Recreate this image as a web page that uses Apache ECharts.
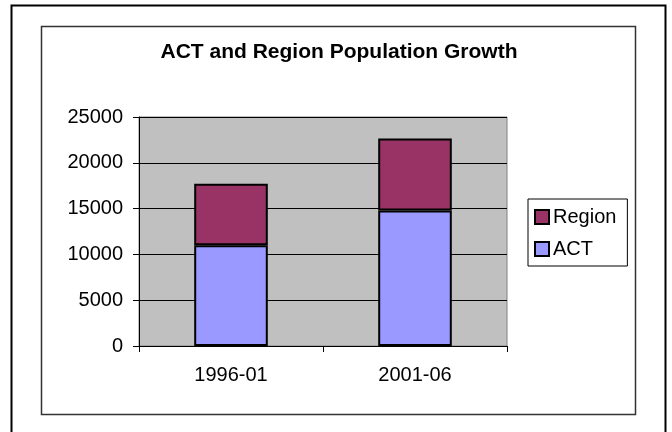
<!DOCTYPE html>
<html lang="en">
  <head>
    <meta charset="UTF-8" />
    <title>ACT and Region Population Growth</title>
    <script src="https://cdn.jsdelivr.net/npm/echarts@6/dist/echarts.min.js"></script>
    <style>
      html, body { margin: 0; padding: 0; background: #fff; }
      #main { width: 672px; height: 432px; }
    </style>
  </head>
  <body>
    <div id="main"></div>
    <script>
      // data
      var categories = ["1996-01", "2001-06"];
      var actValues = [11000, 14800];
      var regionValues = [6700, 7850];
      var legendNames = ["Region", "ACT"];

      var font = "Arial, 'Liberation Sans', sans-serif";
      var myChart = echarts.init(document.getElementById("main"));

      var option = {
        backgroundColor: "#fff",
        animation: false,
        title: {
          text: "ACT and Region Population Growth",
          left: 339,
          textAlign: "center",
          top: 42,
          padding: 0,
          textStyle: { fontFamily: font, fontSize: 21, fontWeight: "bold", color: "#000" },
        },
        graphic: [
          // outer frame
          { type: "rect", shape: { x: 11.5, y: 5.5, width: 654, height: 440 },
            style: { fill: null, stroke: "#000", lineWidth: 2 }, silent: true },
          // chart area frame
          { type: "rect", shape: { x: 41.5, y: 26.5, width: 594, height: 388 },
            style: { fill: null, stroke: "#333", lineWidth: 1.5 }, silent: true },
        ],
        legend: {
          data: legendNames,
          orient: "vertical",
          left: 528,
          top: 199,
          padding: [8, 11, 7, 6],
          itemGap: 12,
          itemWidth: 14,
          itemHeight: 14,
          icon: "rect",
          borderColor: "#000",
          borderWidth: 1,
          backgroundColor: "#fff",
          itemStyle: { borderColor: "#000", borderWidth: 2 },
          textStyle: { fontFamily: font, fontSize: 20, color: "#000", padding: [0, 0, 0, -1] },
        },
        grid: {
          left: 139,
          top: 117,
          right: 165,
          bottom: 86,
          show: true,
          backgroundColor: "#C0C0C0",
          borderColor: "#808080",
          borderWidth: 1,
        },
        xAxis: {
          type: "category",
          data: categories,
          axisLine: { lineStyle: { color: "#000", width: 1 } },
          axisTick: { show: true, length: 6, lineStyle: { color: "#000" } },
          axisLabel: { fontFamily: font, fontSize: 20, color: "#000", margin: 19 },
        },
        yAxis: {
          type: "value",
          min: 0,
          max: 25000,
          interval: 5000,
          axisLine: { show: true, lineStyle: { color: "#000", width: 1 } },
          axisTick: { show: true, length: 6, lineStyle: { color: "#000" } },
          axisLabel: {
            fontFamily: font, fontSize: 20, color: "#000", margin: 16,
            formatter: function (v) { return String(v); },
          },
          splitLine: { show: true, lineStyle: { color: "#000", width: 1 } },
        },
        series: [
          {
            name: "ACT",
            type: "bar",
            stack: "total",
            barWidth: "40%",
            data: actValues,
            itemStyle: { color: "#9999FF", borderColor: "#000", borderWidth: 2 },
          },
          {
            name: "Region",
            type: "bar",
            stack: "total",
            barWidth: "40%",
            data: regionValues,
            itemStyle: { color: "#993366", borderColor: "#000", borderWidth: 2 },
          },
        ],
      };

      myChart.setOption(option);
    </script>
  </body>
</html>
